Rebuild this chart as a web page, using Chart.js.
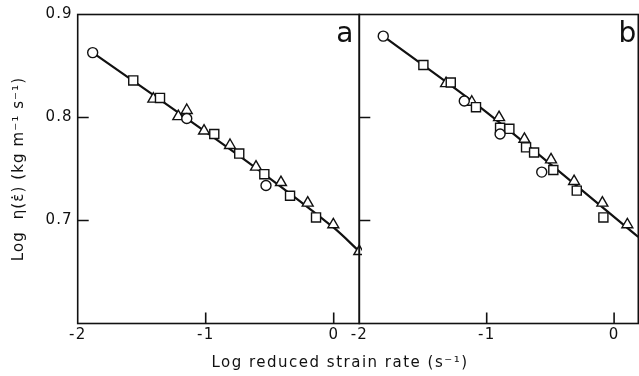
<!DOCTYPE html>
<html>
<head>
<meta charset="utf-8">
<script src="https://cdn.jsdelivr.net/npm/chart.js@4.4.1/dist/chart.umd.min.js"></script>
<style>
  html, body { margin: 0; padding: 0; background: #fff; }
  #wrap { position: relative; width: 639px; height: 376px; overflow: hidden; }
  #panelA { position: absolute; left: 0; top: 0; }
  #panelB { position: absolute; left: 340px; top: 0; }
  #xTitle {
    position: absolute; left: 0; top: 353px; width: 680px;
    text-align: center; font: 15px 'DejaVu Sans', sans-serif; line-height: 18px;
    letter-spacing: 1.5px; color: #111;
  }
</style>
</head>
<body>
<div id="wrap">
  <canvas id="panelA" width="362" height="376"></canvas>
  <canvas id="panelB" width="299" height="376"></canvas>
  <div id="xTitle">Log reduced strain rate (s⁻¹)</div>
</div>
<script>
// Tick positions shared by both panels
const xTickValues = [-2, -1, 0];
const yTickValues = [0.7, 0.8, 0.9];

// Panel a: [log reduced strain rate, log viscosity]
const aCircles = [[-1.883, 0.863], [-1.148, 0.799], [-0.529, 0.734]];
const aSquares = [[-1.566, 0.836], [-1.357, 0.819], [-0.933, 0.784], [-0.738, 0.765],
                  [-0.542, 0.745], [-0.341, 0.724], [-0.138, 0.703]];
const aTriangles = [[-1.409, 0.818], [-1.214, 0.801], [-1.148, 0.807], [-1.013, 0.787],
                    [-0.810, 0.773], [-0.607, 0.752], [-0.412, 0.737], [-0.203, 0.717],
                    [-0.003, 0.696], [0.200, 0.670]];
const aFit = [[-1.883, 0.863], [-1.0, 0.786], [-0.5, 0.741], [0, 0.693], [0.2, 0.670]];

// Panel b
const bCircles = [[-1.812, 0.879], [-1.176, 0.816], [-0.895, 0.784], [-0.568, 0.747]];
const bSquares = [[-1.497, 0.851], [-1.282, 0.834], [-1.084, 0.810], [-0.895, 0.790],
                  [-0.822, 0.789], [-0.691, 0.771], [-0.628, 0.766], [-0.477, 0.749],
                  [-0.293, 0.729], [-0.084, 0.703]];
const bTriangles = [[-1.319, 0.833], [-1.117, 0.815], [-0.903, 0.800], [-0.704, 0.779],
                    [-0.495, 0.759], [-0.314, 0.738], [-0.092, 0.717], [0.104, 0.696]];
const bFit = [[-1.812, 0.879], [-1.0, 0.805], [0.19, 0.684]];

const ink = '#111';
const font = "'DejaVu Sans', sans-serif";

// box around the plot area, with short inward tick marks and the panel letter
const panelFrame = {
  id: 'panelFrame',
  beforeDraw(chart) {
    chart.ctx.letterSpacing = '1.1px';
  },
  afterDatasetsDraw(chart, args, opts) {
    const {ctx, chartArea: a, scales: {x, y}} = chart;
    const len = 11;
    ctx.save();
    ctx.strokeStyle = ink;
    ctx.lineWidth = 1.6;
    ctx.strokeRect(a.left, a.top, a.width, a.height);
    ctx.beginPath();
    xTickValues.forEach(v => {
      const px = x.getPixelForValue(v);
      if (px > a.left + 2 && px < a.right - 2) {
        ctx.moveTo(px, a.bottom);
        ctx.lineTo(px, a.bottom - len);
      }
    });
    yTickValues.forEach(v => {
      const py = y.getPixelForValue(v);
      if (py > a.top + 2 && py < a.bottom - 2) {
        ctx.moveTo(a.left, py);
        ctx.lineTo(a.left + len, py);
      }
    });
    ctx.stroke();
    ctx.fillStyle = ink;
    ctx.letterSpacing = '0px';
    ctx.font = '28px ' + font;
    ctx.textAlign = 'right';
    ctx.textBaseline = 'alphabetic';
    ctx.fillText(opts.letter, a.right - opts.dx, a.top + 27);
    ctx.restore();
  }
};

function markerSet(data, style, radius) {
  return {
    data: data,
    pointStyle: style,
    pointRadius: radius,
    pointBackgroundColor: '#fff',
    pointBorderColor: ink,
    pointBorderWidth: 1.4,
    showLine: false,
    clip: false,
    order: 1,
  };
}

function makePanel(canvasId, sets, opt) {
  return new Chart(document.getElementById(canvasId), {
    type: 'scatter',
    data: {
      datasets: [
        markerSet(sets.circles, 'circle', 5),
        markerSet(sets.squares, 'rect', 6.4),
        markerSet(sets.triangles, 'triangle', 6.3),
        {
          data: sets.fit,
          showLine: true,
          borderColor: ink,
          borderWidth: 2.2,
          pointRadius: 0,
          tension: 0.3,
          clip: false,
          order: 2,
        },
      ]
    },
    options: {
      responsive: false,
      animation: false,
      layout: {
        autoPadding: false,
        padding: { top: 14.5, right: opt.padRight, left: 0, bottom: 0 }
      },
      plugins: {
        legend: { display: false },
        tooltip: { enabled: false },
        panelFrame: { letter: opt.letter, dx: opt.letterDx },
      },
      scales: {
        x: {
          type: 'linear',
          min: -2,
          max: opt.xMax,
          afterBuildTicks: (scale) => { scale.ticks = xTickValues.map(v => ({value: v})); },
          afterFit: (scale) => {
            scale.height = 52.5;
            scale.paddingLeft = 0;
            scale.paddingRight = 0;
          },
          grid: { display: false, drawTicks: false },
          border: { display: false },
          ticks: {
            color: ink,
            font: { family: font, size: 15 },
            padding: 3,
            maxRotation: 0,
            callback: (v) => String(v),
          },
        },
        y: {
          type: 'linear',
          min: 0.6,
          max: 0.9,
          afterBuildTicks: (scale) => { scale.ticks = yTickValues.map(v => ({value: v})); },
          afterFit: (scale) => {
            scale.width = opt.yWidth;
            scale.paddingTop = 0;
            scale.paddingBottom = 0;
          },
          grid: { display: false, drawTicks: false },
          border: { display: false },
          ticks: {
            display: opt.yLabels,
            color: ink,
            font: { family: font, size: 15 },
            padding: 5,
            callback: (v) => v.toFixed(1),
          },
          title: {
            display: opt.yLabels,
            text: 'Log  η(ε̇) (kg m⁻¹ s⁻¹)',
            color: ink,
            font: { family: font, size: 15 },
            padding: { top: 10, bottom: 0 },
          },
        },
      },
    },
    plugins: [panelFrame],
  });
}

makePanel('panelA',
  { circles: aCircles, squares: aSquares, triangles: aTriangles, fit: aFit },
  { letter: 'a', letterDx: 6, xMax: 0.2, yWidth: 77.7, padRight: 2.7, yLabels: true });

makePanel('panelB',
  { circles: bCircles, squares: bSquares, triangles: bTriangles, fit: bFit },
  { letter: 'b', letterDx: 2, xMax: 0.19, yWidth: 19.3, padRight: 0.7, yLabels: false });
</script>
</body>
</html>
